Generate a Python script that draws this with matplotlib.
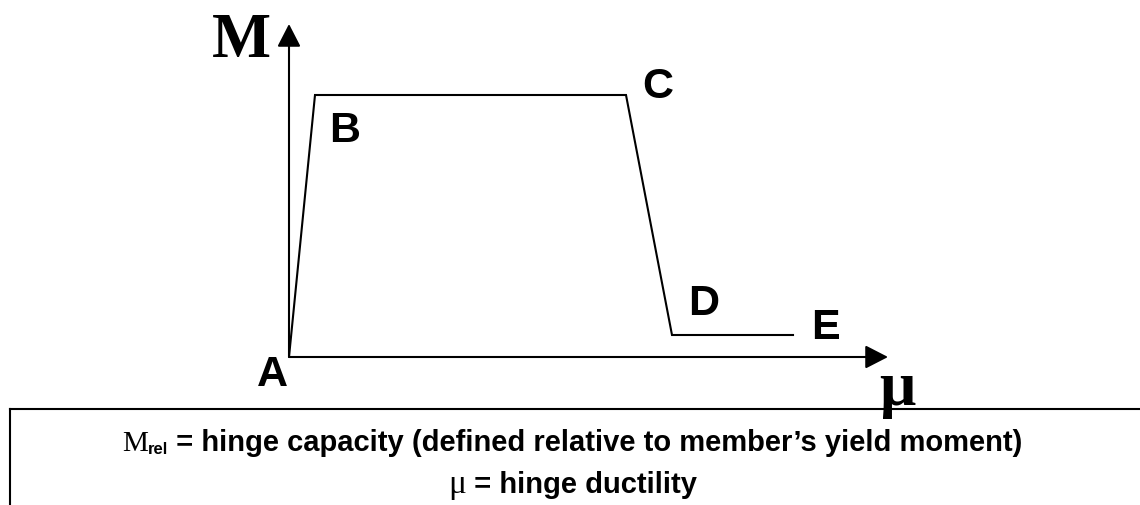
import matplotlib
matplotlib.use("Agg")
import matplotlib.pyplot as plt

# Curve points (ductility mu, relative moment M) in arbitrary units
point_labels = ["A", "B", "C", "D", "E"]
mu_vals = [0.0, 0.26, 3.37, 3.83, 5.04]
m_vals = [0.0, 2.62, 2.62, 0.22, 0.22]

W, H = 1140, 506
fig = plt.figure(figsize=(W / 100, H / 100), dpi=100)
fig.patch.set_facecolor("white")

# Main axes: origin at pixel (289, 358), 100 px per unit
ox, oy = 289, 358
ax = fig.add_axes([ox / W, (H - oy) / H, (900 - ox) / W, (oy - 10) / H])
ax.set_xlim(0, (900 - ox) / 100)
ax.set_ylim(0, (oy - 10) / 100)
ax.axis("off")

ax.plot(mu_vals, m_vals, color="black", lw=1.5, solid_joinstyle="miter", zorder=3)

# Axes arrows
arrow_kw = dict(arrowstyle="-|>,head_length=0.7,head_width=0.36", mutation_scale=20,
                color="black", lw=1.5, shrinkA=0, shrinkB=0)
ax.annotate("", xy=(0, 3.33), xytext=(0, 0), arrowprops=arrow_kw, annotation_clip=False)
ax.annotate("", xy=(5.99, 0), xytext=(0, 0), arrowprops=arrow_kw, annotation_clip=False)

sans = ["Liberation Sans", "DejaVu Sans"]
serif = ["Liberation Serif", "DejaVu Serif"]

# Point labels (offsets in pixels from the point, baseline anchored)
label_offsets = {"A": (-17, -28), "B": (30, -46), "C": (32, -2), "D": (32, 21), "E": (32, -3)}
for name, x, y in zip(point_labels, mu_vals, m_vals):
    dx, dy = label_offsets[name]
    ax.annotate(name, xy=(x, y), xytext=(dx, dy), textcoords="offset pixels",
                ha="center", va="baseline", fontsize=31, fontweight="bold",
                family=sans, annotation_clip=False)

# Axis labels
fig.text(241 / W, 1 - 57 / H, "M", family=serif, fontsize=45, fontweight="bold",
         ha="center", va="baseline")
fig.text(897 / W, 1 - 405 / H, "\u03bc", family=serif, fontsize=46, fontweight="bold",
         ha="center", va="baseline")

# Legend box lines
fig.add_artist(plt.Line2D([10 / W, 1.0], [1 - 410 / H, 1 - 410 / H], color="black", lw=1.5,
                          transform=fig.transFigure))
fig.add_artist(plt.Line2D([10 / W, 10 / W], [1 - 410 / H, 0], color="black", lw=1.5,
                          transform=fig.transFigure))

fig.canvas.draw()
renderer = fig.canvas.get_renderer()


def mixed_line(parts, center_x, baseline_y):
    texts, widths = [], []
    for s, kw, dy in parts:
        t = fig.text(0, 1 - (baseline_y - dy) / H, s, va="baseline", ha="left", **kw)
        widths.append(t.get_window_extent(renderer).width)
        texts.append(t)
    x = center_x - sum(widths) / 2
    for t, w in zip(texts, widths):
        t.set_x(x / W)
        x += w


mixed_line([
    ("M", dict(family=serif, fontsize=21), 0),
    ("rel", dict(family=sans, fontsize=12, fontweight="bold"), -3),
    (" = hinge capacity (defined relative to member\u2019s yield moment)",
     dict(family=sans, fontsize=21, fontweight="bold"), 0),
], 572, 451)

mixed_line([
    ("\u03bc", dict(family=serif, fontsize=24), 0),
    (" = hinge ductility", dict(family=sans, fontsize=21, fontweight="bold"), 0),
], 573, 493)

fig.savefig("out.png", dpi=100, facecolor="white")
